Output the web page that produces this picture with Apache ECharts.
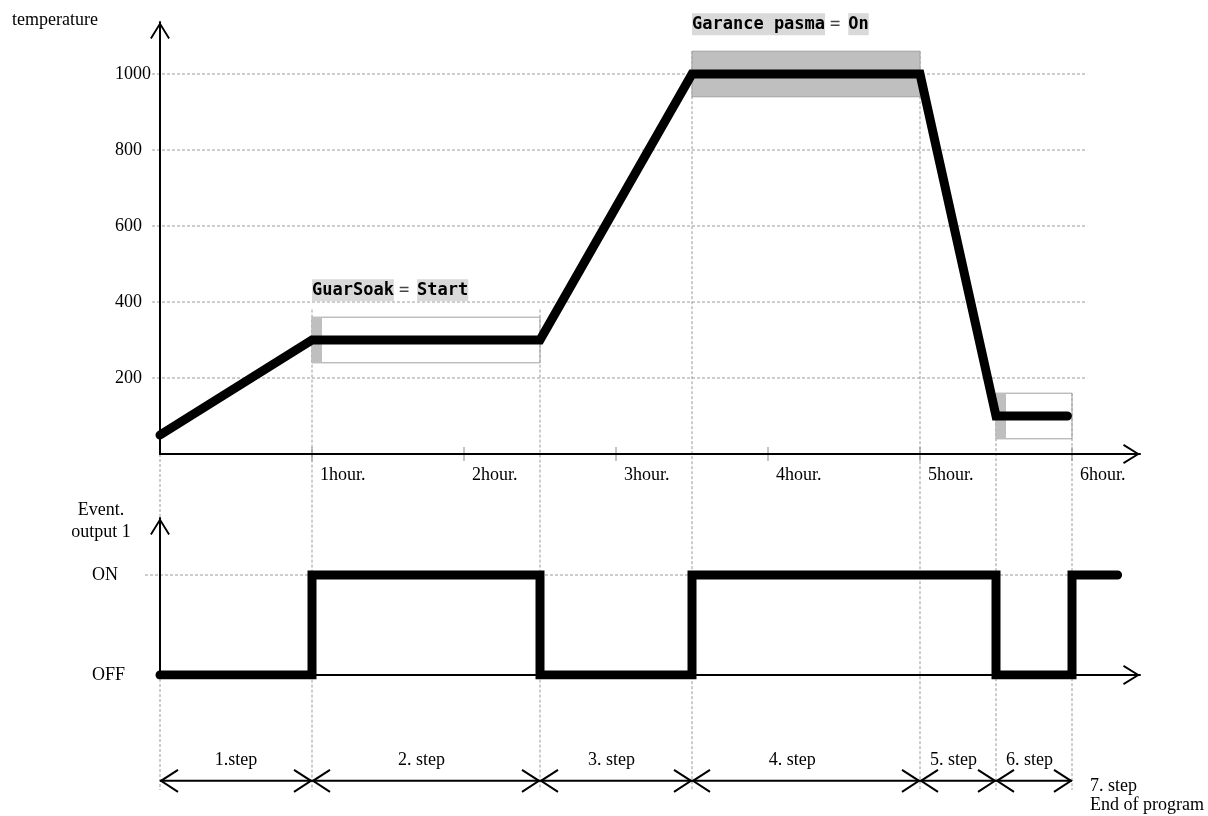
<!DOCTYPE html>
<html><head><meta charset="utf-8">
<script src="https://cdn.jsdelivr.net/npm/echarts@6/dist/echarts.min.js"></script>
<style>html,body{margin:0;padding:0;background:#fff}#c{width:1208px;height:816px}</style>
</head><body><div id="c"></div>
<script>
// ---------------- data ----------------
const tempTimes   = [0, 1, 2.5, 3.5, 5, 5.5, 5.97];
const tempValues  = [50, 300, 300, 1000, 1000, 100, 100];
const eventTimes  = [0, 1, 2.5, 3.5, 5.5, 6, 6.3];
const eventStates = [0, 1, 0, 1, 0, 1, 1];
const xTickValues = [1, 2, 3, 4, 5, 6];
const xTickLabels = ['1hour.', '2hour.', '3hour.', '4hour.', '5hour.', '6hour.'];
const yTickValues = [200, 400, 600, 800, 1000];
const yTickLabels = ['200', '400', '600', '800', '1000'];
const eventLevelValues = [0, 1];
const eventLevelLabels = ['OFF', 'ON'];
const boxStart = [1, 3.5, 5.5];
const boxEnd   = [2.5, 5, 6];
const boxLow   = [240, 940, 40];
const boxHigh  = [360, 1060, 160];
const boxFilled = [false, true, false];
const annotationBox   = [0, 1];
const annotationName  = ['GuarSoak', 'Garance pasma'];
const annotationValue = ['Start', 'On'];
const guideTimes = [0, 1, 2.5, 3.5, 5, 5.5, 6];
const guideTops  = [0, 380, 380, 1060, 1060, 160, 160];
const stepBounds = [0, 1, 2.5, 3.5, 5, 5.5, 6];
const stepLabels = ['1.step', '2. step', '3. step', '4. step', '5. step', '6. step'];
const stepLabelTimes = [0.5, 1.72, 2.97, 4.16, 5.22, 5.72];
const endLabelTime = 6;
const endLabelLines = ['7. step', 'End of program'];
const tempAxisName = 'temperature';
const eventAxisName = 'Event.\noutput 1';

// ---------------- layout / style ----------------
const SERIF = 'Liberation Serif';
const MONO = 'DejaVu Sans Mono';
const CHEVRON = 'path://M0,16.2 L10,0 L20,16.2 L18.4,17.2 L10,3.5 L1.6,17.2 Z';
const X_MAX = 980 / 152;
const Y_MAX = 432 / 0.38;
const EV_MAX = 1.57;
const GRIDLINE_END = 6.1;
const GUIDE_DROP = 336;
const ARROW_ROW = 0.32;
const LABEL_ROW = 0.67;
const GRAY = '#9a9a9a';
const CURVE_W = 9;

const axisLine = {show: true, onZero: false, lineStyle: {color: '#000', width: 2},
  symbol: ['none', CHEVRON], symbolSize: [20, 17], symbolOffset: [0, -8.5]};
const txt = {fontFamily: SERIF, fontSize: 18, color: '#000'};

function lookup(vals, labels) {
  return function (v) { const i = vals.indexOf(v); return i < 0 ? '' : labels[i]; };
}

const chart = echarts.init(document.getElementById('c'), null, {renderer: 'canvas'});

const option = {
  animation: false,
  backgroundColor: '#fff',
  grid: [
    {left: 160, width: 980, top: 22, height: 432, outerBoundsMode: 'none', containLabel: false},
    {left: 160, width: 980, top: 518, height: 157, outerBoundsMode: 'none', containLabel: false},
    {left: 160, width: 980, top: 740, height: 60, outerBoundsMode: 'none', containLabel: false}
  ],
  xAxis: [
    {gridIndex: 0, type: 'value', min: 0, max: X_MAX, interval: 1, z: 10,
     axisLine: axisLine, axisTick: {show: false}, splitLine: {show: false},
     axisLabel: Object.assign({formatter: lookup(xTickValues, xTickLabels), align: 'left',
       verticalAlign: 'top', padding: [0, 0, 0, 8], margin: 12, showMaxLabel: false, hideOverlap: false}, txt)},
    {gridIndex: 1, type: 'value', min: 0, max: X_MAX, interval: 1, z: 10,
     axisLine: axisLine, axisTick: {show: false}, splitLine: {show: false}, axisLabel: {show: false}},
    {gridIndex: 2, type: 'value', min: 0, max: X_MAX, show: false}
  ],
  yAxis: [
    {gridIndex: 0, type: 'value', min: 0, max: Y_MAX, interval: 200, z: 10,
     axisLine: axisLine, axisTick: {show: false}, splitLine: {show: false},
     name: tempAxisName, nameLocation: 'end', nameGap: 2, nameMoveOverlap: false,
     nameTextStyle: Object.assign({align: 'right', verticalAlign: 'middle', padding: [0, 62, 0, 0]}, txt),
     axisLabel: Object.assign({formatter: lookup(yTickValues, yTickLabels), align: 'left',
       margin: 45, showMaxLabel: false, showMinLabel: false}, txt)},
    {gridIndex: 1, type: 'value', min: 0, max: EV_MAX, interval: 1, z: 10,
     axisLine: axisLine, axisTick: {show: false}, splitLine: {show: false},
     name: eventAxisName, nameLocation: 'end', nameGap: -3, nameMoveOverlap: false,
     nameTextStyle: Object.assign({align: 'center', verticalAlign: 'middle', lineHeight: 22, padding: [0, 118, 0, 0]}, txt),
     axisLabel: Object.assign({formatter: lookup(eventLevelValues, eventLevelLabels), align: 'left',
       margin: 68, showMaxLabel: false}, txt)},
    {gridIndex: 2, type: 'value', min: 0, max: 1, show: false}
  ],
  series: [
    // horizontal dashed gridlines, temperature
    {type: 'custom', xAxisIndex: 0, yAxisIndex: 0, z: 1, silent: true,
     data: yTickValues.map(v => [0, v]),
     renderItem: function (params, api) {
       const v = api.value(1);
       const p0 = api.coord([0, v]), p1 = api.coord([GRIDLINE_END, v]);
       return {type: 'line', shape: {x1: p0[0] - 8, y1: p0[1], x2: p1[0], y2: p1[1]},
         style: {stroke: GRAY, lineWidth: 1, lineDash: [3, 2]}};
     }},
    // ON gridline
    {type: 'custom', xAxisIndex: 1, yAxisIndex: 1, z: 1, silent: true,
     data: [[0, 1]],
     renderItem: function (params, api) {
       const v = api.value(1);
       const p0 = api.coord([0, v]), p1 = api.coord([GRIDLINE_END, v]);
       return {type: 'line', shape: {x1: p0[0] - 15, y1: p0[1], x2: p1[0], y2: p1[1]},
         style: {stroke: GRAY, lineWidth: 1, lineDash: [3, 2]}};
     }},
    // vertical guides
    {type: 'custom', xAxisIndex: 0, yAxisIndex: 0, z: 1, silent: true,
     data: guideTimes.map((t, i) => [t, guideTops[i]]),
     renderItem: function (params, api) {
       const t = api.value(0);
       const top = api.coord([t, api.value(1)]), base = api.coord([t, 0]);
       return {type: 'line', shape: {x1: top[0], y1: top[1], x2: base[0], y2: base[1] + GUIDE_DROP},
         style: {stroke: GRAY, lineWidth: 1, lineDash: [3, 2]}};
     }},
    // hour ticks
    {type: 'custom', xAxisIndex: 0, yAxisIndex: 0, z: 2, silent: true,
     data: xTickValues.map(v => [v, 0]),
     renderItem: function (params, api) {
       const p = api.coord([api.value(0), 0]);
       return {type: 'line', shape: {x1: p[0], y1: p[1] - 7, x2: p[0], y2: p[1] + 7},
         style: {stroke: '#888', lineWidth: 1}};
     }},
    // tolerance boxes
    {type: 'custom', xAxisIndex: 0, yAxisIndex: 0, z: 3, silent: true,
     data: boxStart.map((s, i) => [s, boxHigh[i], boxEnd[i], boxLow[i]]),
     renderItem: function (params, api) {
       const i = params.dataIndex;
       const p0 = api.coord([api.value(0), api.value(1)]);
       const p1 = api.coord([api.value(2), api.value(3)]);
       const w = p1[0] - p0[0], h = p1[1] - p0[1];
       const ch = [{type: 'rect', shape: {x: p0[0], y: p0[1], width: w, height: h},
         style: {fill: boxFilled[i] ? '#bfbfbf' : 'rgba(255,255,255,0)', stroke: '#a0a0a0', lineWidth: 1}}];
       if (!boxFilled[i]) ch.push({type: 'rect', shape: {x: p0[0], y: p0[1], width: 10, height: h},
         style: {fill: '#bfbfbf'}});
       return {type: 'group', children: ch};
     }},
    // annotations
    {type: 'custom', xAxisIndex: 0, yAxisIndex: 0, z: 5, silent: true,
     data: annotationBox.map(b => [boxStart[b], boxHigh[b]]),
     renderItem: function (params, api) {
       const i = params.dataIndex;
       const p = api.coord([api.value(0), api.value(1)]);
       return {type: 'text', x: p[0], y: p[1] - 27,
         style: {text: '{hl|' + annotationName[i] + '}{eq|=}{hl|' + annotationValue[i] + '}',
           align: 'left', verticalAlign: 'middle',
           rich: {
             hl: {backgroundColor: '#d9d9d9', fontFamily: MONO, fontWeight: 'bold', fontSize: 17, fill: '#000', padding: [3, 0, 2, 0]},
             eq: {fontFamily: MONO, fontSize: 17, fill: '#444', padding: [0, 8, 0, 5]}
           }}};
     }},
    // temperature curve
    {type: 'line', xAxisIndex: 0, yAxisIndex: 0, z: 20, silent: true, showSymbol: false,
     data: tempTimes.map((t, i) => [t, tempValues[i]]),
     lineStyle: {color: '#000', width: CURVE_W, cap: 'round', join: 'miter'}},
    // event output
    {type: 'line', xAxisIndex: 1, yAxisIndex: 1, z: 20, silent: true, showSymbol: false, step: 'end',
     data: eventTimes.map((t, i) => [t, eventStates[i]]),
     lineStyle: {color: '#000', width: CURVE_W, cap: 'round', join: 'miter'}},
    // step arrows
    {type: 'custom', xAxisIndex: 2, yAxisIndex: 2, z: 5, silent: true,
     data: stepLabels.map((s, i) => [stepBounds[i], ARROW_ROW, stepBounds[i + 1]]),
     renderItem: function (params, api) {
       const a = api.coord([api.value(0), ARROW_ROW]);
       const b = api.coord([api.value(2), ARROW_ROW]);
       const st = {stroke: '#000', lineWidth: 2, fill: 'none'};
       return {type: 'group', children: [
         {type: 'line', shape: {x1: a[0], y1: a[1], x2: b[0], y2: b[1]}, style: st},
         {type: 'polyline', shape: {points: [[a[0] + 18, a[1] - 11], [a[0] + 1, a[1]], [a[0] + 18, a[1] + 11]]}, style: st},
         {type: 'polyline', shape: {points: [[b[0] - 18, b[1] - 11], [b[0] - 1, b[1]], [b[0] - 18, b[1] + 11]]}, style: st}
       ]};
     }},
    // step labels
    {type: 'custom', xAxisIndex: 2, yAxisIndex: 2, z: 5, silent: true,
     data: stepLabelTimes.map(t => [t, LABEL_ROW]),
     renderItem: function (params, api) {
       const p = api.coord([api.value(0), api.value(1)]);
       return {type: 'text', x: p[0], y: p[1],
         style: {text: stepLabels[params.dataIndex], align: 'center', verticalAlign: 'middle',
           fontFamily: SERIF, fontSize: 18, fill: '#000'}};
     }},
    // end label
    {type: 'custom', xAxisIndex: 2, yAxisIndex: 2, z: 5, silent: true,
     data: [[endLabelTime, ARROW_ROW]],
     renderItem: function (params, api) {
       const p = api.coord([api.value(0), api.value(1)]);
       return {type: 'text', x: p[0] + 18, y: p[1] - 4,
         style: {text: endLabelLines.join('\n'), align: 'left', verticalAlign: 'top',
           fontFamily: SERIF, fontSize: 18, lineHeight: 19, fill: '#000'}};
     }}
  ]
};
chart.setOption(option);
</script></body></html>
